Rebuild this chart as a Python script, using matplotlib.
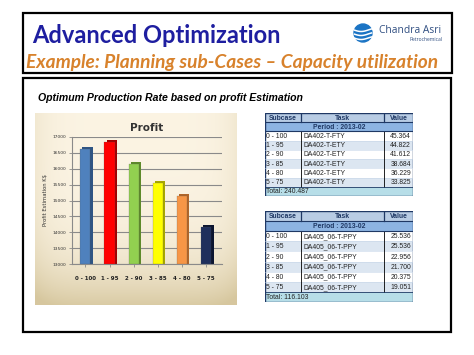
import matplotlib
matplotlib.use('Agg')
import matplotlib.pyplot as plt
from matplotlib.patches import Rectangle, Circle
import numpy as np

# chart data
subcases = ['0 - 100', '1 - 95', '2 - 90', '3 - 85', '4 - 80', '5 - 75']
profit = [16620, 16830, 16150, 15550, 15150, 14180]
bar_colors = ['#4F81BD', '#FF0000', '#92D050', '#FFFF00', '#F79646', '#1F2F5C']
side_colors = ['#2F5584', '#A00000', '#5E8A2A', '#A8A800', '#B0662A', '#0C1530']
yticks = [13000, 13500, 14000, 14500, 15000, 15500, 16000, 16500, 17000]

# tables
period = 'Period : 2013-02'
task1 = ['DA402-T-FTY', 'DA402-T-ETY', 'DA402-T-ETY', 'DA402-T-ETY', 'DA402-T-ETY', 'DA402-T-ETY']
value1 = ['45.364', '44.822', '41.612', '38.684', '36.229', '33.825']
total1 = 'Total: 240.487'
task2 = ['DA405_06-T-PPY'] * 6
value2 = ['25.536', '25.536', '22.956', '21.700', '20.375', '19.051']
total2 = 'Total: 116.103'

W, H = 474, 355
fig = plt.figure(figsize=(W / 100, H / 100), dpi=100)

bg = fig.add_axes([0, 0, 1, 1])
bg.set_xlim(0, W)
bg.set_ylim(H, 0)
bg.axis('off')

# slide boxes
bg.add_patch(Rectangle((23, 13), 429, 60, fill=False, ec='black', lw=1.6))
bg.add_patch(Rectangle((23, 78), 428, 254, fill=False, ec='black', lw=1.6))

bg.text(32, 43, 'Advanced Optimization', fontsize=17, fontweight='bold',
        family='Lato', color='#1E1EA0', va='baseline')
bg.text(26, 68, 'Example: Planning sub-Cases \u2013 Capacity utilization',
        fontsize=13.8, fontweight='bold', style='italic', family='Lato',
        color='#D8822C', va='baseline')
bg.text(38, 101, 'Optimum Production Rate based on profit Estimation',
        fontsize=7.6, fontweight='bold', style='italic', family='Liberation Sans',
        color='black', va='baseline')

# logo
bg.add_patch(Circle((363, 33), 9, color='#1B74C4'))
for dy in (-3, 1, 5):
    xs = np.linspace(354.5, 371.5, 30)
    bg.plot(xs, 33 + dy + 1.5 * np.sin((xs - 354) / 17 * np.pi * 1.2), color='white', lw=1.1)
bg.text(379, 33, 'Chandra Asri', fontsize=7.4, family='Open Sans', color='#2E4D80', va='baseline')
bg.text(443, 41, 'Petrochemical', fontsize=3.6, family='Open Sans', color='#2E4D80',
        va='baseline', ha='right')

# chart panel with gradient
panel = fig.add_axes([35 / W, 1 - 305 / H, 202 / W, 192 / H])
gx, gy = np.meshgrid(np.linspace(-1, 1, 200), np.linspace(0, 1, 200))
t = np.clip(gy ** 4 * 0.9 + np.abs(gx) ** 6 * 0.25, 0, 1)
c0 = np.array([0.985, 0.955, 0.89])
c1 = np.array([0.84, 0.78, 0.62])
img = c0[None, None, :] * (1 - t[..., None]) + c1[None, None, :] * t[..., None]
panel.imshow(img, aspect='auto', extent=(0, 1, 0, 1), origin='upper')
panel.axis('off')

ax = fig.add_axes([72 / W, 1 - 264 / H, 150 / W, 127 / H])
ax.patch.set_alpha(0)
x = np.arange(len(subcases))
bw = 0.42
ax.bar(x + 0.09, np.array(profit) - 13000 + 60, bw, bottom=13000, color=side_colors, zorder=2)
ax.bar(x, np.array(profit) - 13000, bw, bottom=13000, color=bar_colors, zorder=3,
       edgecolor='#55555580', linewidth=0.3)
ax.set_ylim(13000, 17000)
ax.set_xlim(-0.55, 5.65)
ax.set_yticks(yticks)
ax.set_yticklabels([str(t) for t in yticks], fontsize=3.2, color='#333333')
ax.set_xticks(x)
ax.set_xticklabels(subcases, fontsize=4.0, fontweight='bold', color='#222222')
ax.grid(axis='y', color='#8A8A8A', linewidth=0.8, zorder=1)
ax.set_axisbelow(True)
for s in ['top', 'right']:
    ax.spines[s].set_visible(False)
ax.spines['left'].set_color('#8A8A8A')
ax.spines['bottom'].set_color('#8A8A8A')
ax.tick_params(axis='both', length=2, width=0.6, color='#8A8A8A', pad=2)
ax.tick_params(axis='x', pad=7)
ax.set_ylabel('Profit Estimation K$', fontsize=3.8, color='#333333', labelpad=3)
ax.set_title('Profit', fontsize=7.5, fontweight='bold', color='#333333', pad=4)


def draw_table(rect, tasks, values, total):
    tb = fig.add_axes(rect)
    n = len(tasks) + 3
    tb.set_xlim(0, 148)
    tb.set_ylim(n, 0)
    tb.axis('off')
    cols = [0, 36, 119, 148]
    fs = 4.9
    # header
    tb.add_patch(Rectangle((0, 0), 148, 1, fc='#B8CCE4', ec='none'))
    for i, lab in enumerate(['Subcase', 'Task', 'Value']):
        tb.text((cols[i] + cols[i + 1]) / 2, 0.55, lab, ha='center', va='center',
                fontsize=fs, fontweight='bold', color='#1F3864', family='Liberation Sans')
    tb.add_patch(Rectangle((0, 1), 148, 1, fc='#8DB4E2', ec='none'))
    tb.text(74, 1.55, period, ha='center', va='center', fontsize=fs, fontweight='bold',
            color='#1F3864', family='Liberation Sans')
    for k, (sc, tk, v) in enumerate(zip(subcases, tasks, values)):
        yy = 2 + k
        tb.add_patch(Rectangle((0, yy), 148, 1, fc='#DCE6F1' if k % 2 == 1 else 'white', ec='none'))
        tb.plot([0, 148], [yy, yy], color='#C5D5E8', lw=0.4)
        tb.text(1, yy + 0.55, sc, va='center', fontsize=fs, color='#222222', family='Liberation Sans')
        tb.text(cols[1] + 2, yy + 0.55, tk, va='center', fontsize=fs, color='#222222',
                family='Liberation Sans')
        tb.text(146, yy + 0.55, v, va='center', ha='right', fontsize=fs, color='#222222',
                family='Liberation Sans')
    tb.add_patch(Rectangle((0, n - 1), 148, 1, fc='#B7DEE8', ec='none'))
    tb.text(1, n - 0.45, total, va='center', fontsize=fs, color='#222222', family='Liberation Sans')
    # lines
    for cx in cols[1:3]:
        tb.plot([cx, cx], [0, 1], color='#1F3864', lw=0.9)
        tb.plot([cx, cx], [2, n - 1], color='black', lw=0.6)
    tb.plot([0, 148], [1, 1], color='#1F3864', lw=0.8)
    tb.plot([0, 148], [2, 2], color='#1F3864', lw=0.8)
    tb.plot([0, 148], [n - 1, n - 1], color='#1F3864', lw=0.6)
    tb.add_patch(Rectangle((0, 0), 148, n, fill=False, ec='#1F3864', lw=1.0))


draw_table([265 / W, 1 - 196 / H, 148 / W, 83 / H], task1, value1, total1)
draw_table([265 / W, 1 - 302 / H, 148 / W, 91 / H], task2, value2, total2)

plt.savefig('out.png', dpi=100)
